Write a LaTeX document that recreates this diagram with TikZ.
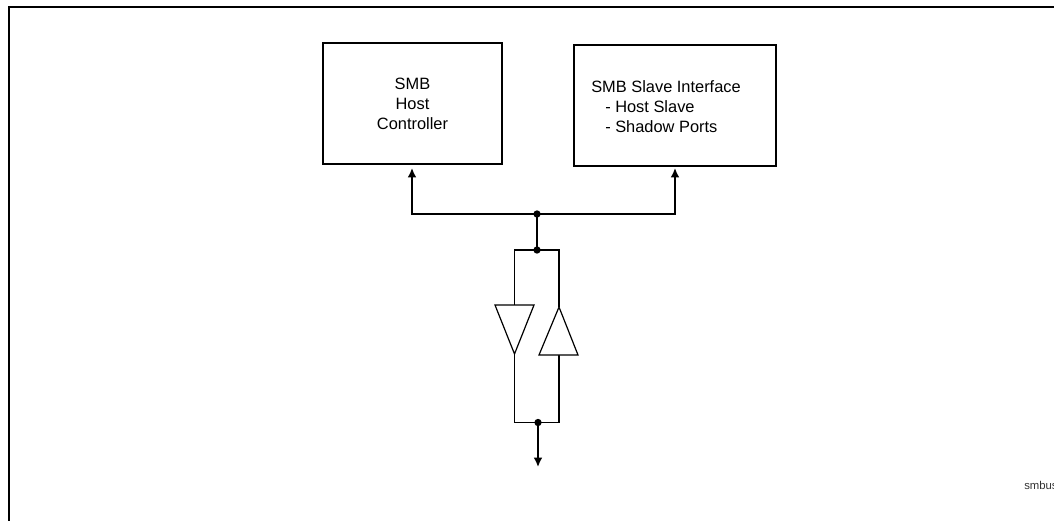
\documentclass[tikz,border=0pt]{standalone}
\usepackage{fontspec}
\setmainfont{Liberation Sans}
\usetikzlibrary{arrows.meta}
\tikzset{
  x=0.75pt,y=-0.75pt,
  blockbox/.style={draw=black,line width=1.2pt,fill=white,inner sep=0pt,align=left,font=\fontsize{12.3pt}{15pt}\selectfont},
  busline/.style={draw=black,line width=1.2pt},
  thinline/.style={draw=black,line width=0.9pt},
  arrowline/.style={busline,-{Latex[length=7pt,width=6.5pt]}},
  junction/.style={circle,fill=black,inner sep=0pt,minimum size=5.5pt},
  gate/.style={draw=black,line width=0.9pt,fill=white,line join=miter}
}
\begin{document}
\begin{tikzpicture}
\useasboundingbox (0,0) rectangle (1054,521);
\draw[black,line width=1.5pt] (9,521) -- (9,7) -- (1054,7);
\node[blockbox,minimum width=134.25pt,minimum height=90.75pt,align=center] (host) at (412.5,103.5) {SMB\\Host\\Controller};
\node[blockbox,minimum width=151.5pt,minimum height=90.75pt,line width=0.9pt] (slave) at (675,105.5) {};
\node[font=\fontsize{12.3pt}{15pt}\selectfont,align=left,anchor=north west,inner sep=0pt] (slavetext) at (591,80) {SMB Slave Interface\\\hspace*{10.5pt}- Host Slave\\\hspace*{10.5pt}- Shadow Ports};
\coordinate (tapl) at (412,168);
\coordinate (tapr) at (675,168);
\node[junction] (j1) at (537,214) {};
\node[junction] (j2) at (537,250) {};
\node[junction] (j3) at (538,422.5) {};
\coordinate (out) at (538,467);
\coordinate (ltop) at (514.5,250);
\coordinate (rtop) at (559,250);
\coordinate (lbot) at (514.5,422.5);
\coordinate (rbot) at (559,422.5);
\coordinate (la) at (514.5,305);
\coordinate (lb) at (514.5,354);
\coordinate (ra) at (559,307);
\coordinate (rb) at (559,355);
\draw[arrowline] (j1.center) -| (tapl);
\draw[arrowline] (j1.center) -| (tapr);
\draw[busline] (j1.center) -- (j2.center);
\draw[thinline] (j2.center) -- (ltop) -- (la);
\draw[thinline] (j2.center) -- (rtop) -- (ra);
\draw[thinline] (lb) -- (lbot) -- (j3.center);
\draw[busline] (rb) -- (rbot) -- (j3.center);
\draw[gate] (495,305) -- (534,305) -- (lb) -- cycle;
\draw[gate] (539,355) -- (578,355) -- (ra) -- cycle;
\draw[arrowline] (j3.center) -- (out);
\node[font=\fontsize{8.5pt}{9pt}\selectfont,text=black!80,anchor=base west,inner sep=0pt] (tag) at (1024,489) {smbus};
\end{tikzpicture}
\end{document}
